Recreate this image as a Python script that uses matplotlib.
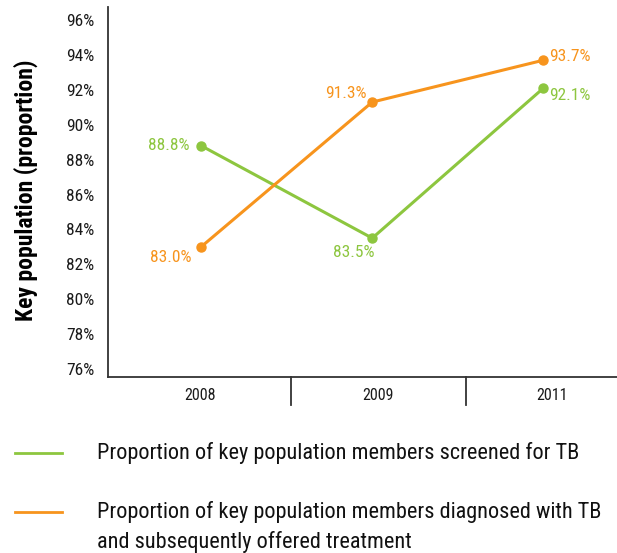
import matplotlib
matplotlib.use("Agg")
import matplotlib.pyplot as plt
from matplotlib import font_manager
import matplotlib.transforms as mtransforms

categories = ["2008", "2009", "2011"]
screened = [88.8, 83.5, 92.1]
diagnosed = [83.0, 91.3, 93.7]
yticks = [76, 78, 80, 82, 84, 86, 88, 90, 92, 94, 96]
legend_labels = ["Proportion of key population members screened for TB",
                 "Proportion of key population members diagnosed with TB",
                 "and subsequently offered treatment"]
ylabel = "Key population (proportion)"

names = {f.name for f in font_manager.fontManager.ttflist}
fam = [n for n in ["Roboto Condensed", "Liberation Sans Narrow", "Liberation Sans", "DejaVu Sans"] if n in names]
plt.rcParams['font.family'] = fam

GREEN = "#8dc63f"
ORANGE = "#f7941d"
AX = "#333333"

fig = plt.figure(figsize=(6.17, 5.53), dpi=100)
W, H = 617, 553
ax = fig.add_axes([108 / W, (H - 377) / H, (617 - 108) / W, (377 - 7) / H])

x = list(range(len(categories)))
ax.plot(x, screened, color=GREEN, lw=2.2, marker="o", ms=6.5, zorder=3)
ax.plot(x, diagnosed, color=ORANGE, lw=2.2, marker="o", ms=6.5, zorder=3)

ax.set_xlim(-0.544, 2.43)
ax.set_ylim(75.54, 96.75)
ax.set_yticks(yticks)
ax.set_yticklabels([f"{v}%" for v in yticks], fontsize=12.5, color="#1a1a1a")
ax.tick_params(axis="y", length=0, pad=10)

bounds = [-0.544, 0.527, 1.545, 2.55]
centers = [(bounds[i] + bounds[i + 1]) / 2 for i in range(3)]
ax.set_xticks(centers)
ax.set_xticklabels(categories, fontsize=11.5, color="#1a1a1a")
ax.tick_params(axis="x", length=0, pad=8)

for s in ["top", "right"]:
    ax.spines[s].set_visible(False)
for s in ["left", "bottom"]:
    ax.spines[s].set_color(AX)
    ax.spines[s].set_linewidth(1.3)

trans = mtransforms.blended_transform_factory(ax.transData, ax.transAxes)
for b in bounds[1:3]:
    ax.plot([b, b], [0, -28 / 370], transform=trans, color=AX, lw=1.3, clip_on=False)

ax.set_ylabel(ylabel, fontsize=17, fontweight="bold")
ax.yaxis.set_label_coords(-70 / 509, (377 - 190) / 370)

lab_kw = dict(textcoords="offset points", fontsize=12.5)
def lab(xi, yi, dx, dy, color, ha, va="center"):
    ax.annotate(f"{yi:.1f}%", (xi, yi), xytext=(dx, dy), color=color, ha=ha, va=va, **lab_kw)

lab(0, screened[0], -8, 0, GREEN, "right")
lab(1, screened[1], -13, -10, GREEN, "center")
lab(2, screened[2], 4, -5, GREEN, "left")
lab(0, diagnosed[0], -7, -8, ORANGE, "right")
lab(1, diagnosed[1], -19, 6, ORANGE, "center")
lab(2, diagnosed[2], 4, 3, ORANGE, "left")

# legend
def fy(py):
    return (H - py) / H
fig.add_artist(plt.Line2D([15 / W, 62 / W], [fy(453), fy(453)], color=GREEN, lw=2))
fig.add_artist(plt.Line2D([15 / W, 62 / W], [fy(512), fy(512)], color=ORANGE, lw=2))
fig.text(97 / W, fy(453), legend_labels[0], fontsize=16, va="center", ha="left", color="#111111")
fig.text(97 / W, fy(512), legend_labels[1], fontsize=16, va="center", ha="left", color="#111111")
fig.text(97 / W, fy(542), legend_labels[2], fontsize=16, va="center", ha="left", color="#111111")

fig.savefig("out.png", dpi=100)
